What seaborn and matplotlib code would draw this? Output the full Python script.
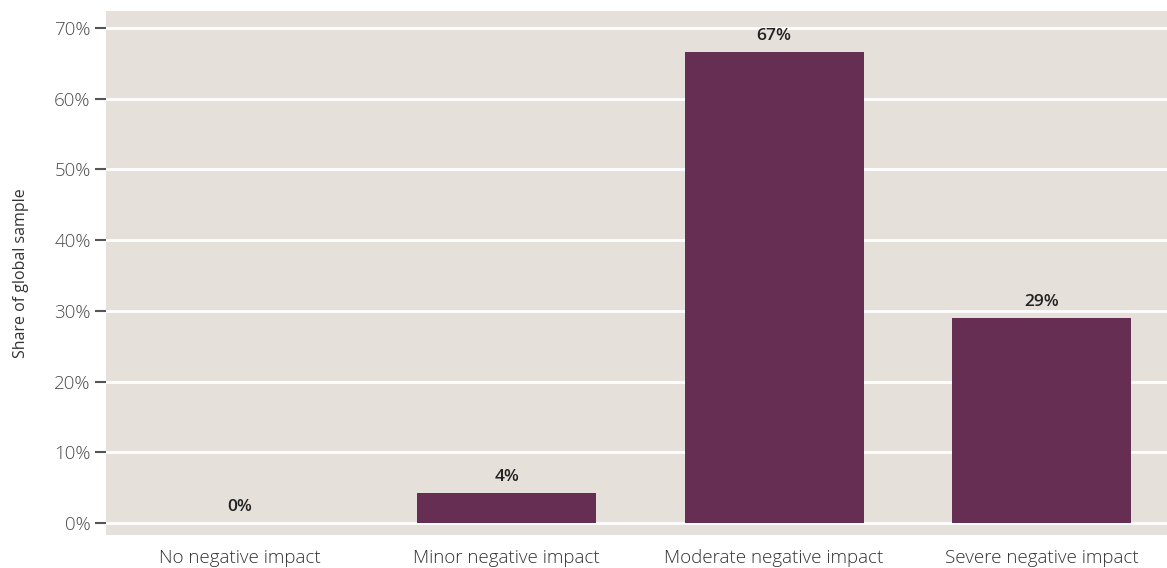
import matplotlib
matplotlib.use('Agg')
import matplotlib.pyplot as plt
import pandas as pd
import seaborn as sns
from matplotlib.ticker import PercentFormatter

categories = ['No negative impact', 'Minor negative impact',
              'Moderate negative impact', 'Severe negative impact']
shares = [0.0, 0.042, 0.666, 0.29]
value_labels = ['0%', '4%', '67%', '29%']
y_ticks = [0.0, 0.1, 0.2, 0.3, 0.4, 0.5, 0.6, 0.7]

bg_color = '#e6e0db'
bar_color = '#662e52'
text_color = '#4a4a4a'


def main():
    sns.set_style('white')
    plt.rcParams['font.family'] = ['Open Sans', 'DejaVu Sans']

    df = pd.DataFrame({'category': categories, 'share': shares})

    fig = plt.figure(figsize=(11.67, 5.68), dpi=100)
    ax = fig.add_axes([0.0908, 0.058, 0.9092, 0.9226])
    ax.set_facecolor(bg_color)

    sns.barplot(data=df, x='category', y='share', color=bar_color,
                width=0.67, saturation=1, linewidth=0, ax=ax, zorder=3)

    ax.set_ylim(-0.017, 0.724)
    ax.set_xlim(-0.5, 3.47)
    ax.set_yticks(y_ticks)
    ax.yaxis.set_major_formatter(PercentFormatter(1.0, decimals=0))
    ax.grid(axis='y', color='white', linewidth=2, zorder=0)
    ax.set_axisbelow(True)

    for side in ['top', 'right', 'bottom', 'left']:
        ax.spines[side].set_visible(False)

    ax.tick_params(axis='y', length=8, width=1.5, color='#555555', pad=3,
                   labelsize=13.5, labelcolor=text_color, left=True)
    ax.tick_params(axis='x', length=0, pad=10, labelsize=13.5, labelcolor='#333333')
    for lbl in ax.get_yticklabels() + ax.get_xticklabels():
        lbl.set_fontweight('light')

    ax.set_xlabel('')
    ax.set_ylabel('Share of global sample', fontsize=11.5, color='#333333',
                  labelpad=18)

    for i, (v, t) in enumerate(zip(shares, value_labels)):
        ax.annotate(t, (i, v), xytext=(0, 6), textcoords='offset points',
                    ha='center', va='bottom', fontsize=12.5, fontweight='semibold',
                    color='#222222')

    fig.savefig('out.png', dpi=100, facecolor='white')


if __name__ == '__main__':
    main()
